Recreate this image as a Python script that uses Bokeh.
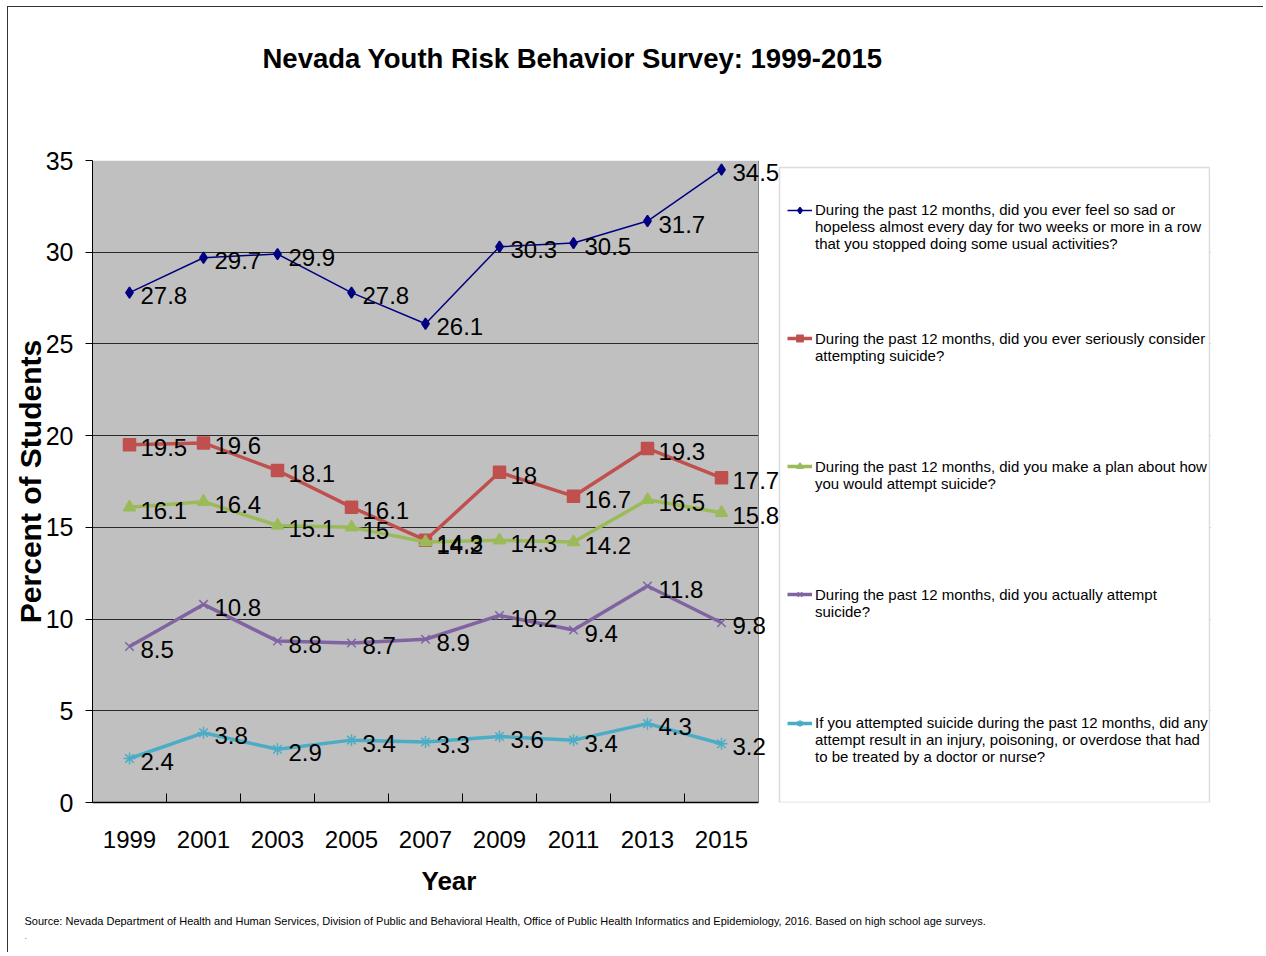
from bokeh.plotting import figure
from bokeh.models import (Range1d, FixedTicker, SingleIntervalTicker, ColumnDataSource,
                          LabelSet, Legend, LegendItem, Title, BoxAnnotation, Span)
from bokeh.core.properties import value
from bokeh.embed import file_html
from bokeh.resources import INLINE

years = ["1999", "2001", "2003", "2005", "2007", "2009", "2011", "2013", "2015"]
sad = [27.8, 29.7, 29.9, 27.8, 26.1, 30.3, 30.5, 31.7, 34.5]
consider = [19.5, 19.6, 18.1, 16.1, 14.3, 18.0, 16.7, 19.3, 17.7]
plan = [16.1, 16.4, 15.1, 15.0, 14.2, 14.3, 14.2, 16.5, 15.8]
attempt = [8.5, 10.8, 8.8, 8.7, 8.9, 10.2, 9.4, 11.8, 9.8]
injury = [2.4, 3.8, 2.9, 3.4, 3.3, 3.6, 3.4, 4.3, 3.2]

series_labels = [
    ["During the past 12 months, did you ever feel so sad or",
     "hopeless almost every day for two weeks or more in a row",
     "that you stopped doing some usual activities?"],
    ["During the past 12 months, did you ever seriously consider",
     "attempting suicide?"],
    ["During the past 12 months, did you make a plan about how",
     "you would attempt suicide?"],
    ["During the past 12 months, did you actually attempt",
     "suicide?"],
    ["If you attempted suicide during the past 12 months, did any",
     "attempt result in an injury, poisoning, or overdose that had",
     "to be treated by a doctor or nurse?"],
]
title_text = "Nevada Youth Risk Behavior Survey: 1999-2015"
y_title = "Percent of Students"
x_title = "Year"
source_text = ("Source: Nevada Department of Health and Human Services, Division of Public and Behavioral Health, "
               "Office of Public Health Informatics and Epidemiology, 2016. Based on high school age surveys.")

FONT = "Liberation Sans"
n = len(years)

p = figure(width=1256, height=946, x_range=Range1d(0, 15.108), y_range=Range1d(0, 35),
           output_backend="svg", toolbar_location=None,
           min_border_left=84, min_border_right=54, min_border_top=153, min_border_bottom=151)
p.background_fill_color = "white"
p.border_fill_color = "white"
p.outline_line_color = None

xs = [i + 0.5 for i in range(n)]

# grey plot region (the frame is wider so that the end labels and legend are not cut)
p.add_layout(BoxAnnotation(left=0, right=n, fill_color="#C0C0C0", fill_alpha=1.0,
                           line_color=None, level="image"))

# x axis
p.xaxis.ticker = FixedTicker(ticks=xs, minor_ticks=list(range(1, n)))
p.xaxis.major_label_overrides = {x: y for x, y in zip(xs, years)}
p.xaxis.bounds = (0, n)
p.xaxis.major_tick_line_color = None
p.xaxis.major_tick_in = 0
p.xaxis.major_tick_out = 0
p.xaxis.minor_tick_in = 9
p.xaxis.minor_tick_out = 0
p.xaxis.minor_tick_line_color = "black"
p.xaxis.axis_line_color = "black"
p.xaxis.axis_line_width = 1.5
p.xaxis.major_label_standoff = 28
p.xaxis.major_label_text_font = FONT
p.xaxis.major_label_text_font_size = "24px"
p.xaxis.major_label_text_color = "black"

# y axis
p.yaxis.ticker = SingleIntervalTicker(interval=5, num_minor_ticks=0)
p.yaxis.major_tick_out = 7
p.yaxis.major_tick_in = 0
p.yaxis.minor_tick_line_color = None
p.yaxis.axis_line_color = "black"
p.yaxis.major_tick_line_color = "black"
p.yaxis.major_label_standoff = 12
p.yaxis.major_label_text_font = FONT
p.yaxis.major_label_text_font_size = "25px"
p.yaxis.major_label_text_color = "black"
p.yaxis.axis_label = y_title
p.yaxis.axis_label_text_font = FONT
p.yaxis.axis_label_text_font_size = "30px"
p.yaxis.axis_label_text_font_style = "bold"
p.yaxis.axis_label_text_color = "black"
p.yaxis.axis_label_standoff = -4

p.xgrid.grid_line_color = None
p.ygrid.grid_line_color = "#2a2a2a"
p.ygrid.grid_line_width = 1

# white area right of the plot region
p.add_layout(BoxAnnotation(left=n, fill_color="white", fill_alpha=1.0, line_color=None, level="glyph"))
p.add_layout(Span(location=n, dimension="height", line_color="#8a8a8a", line_width=1, level="glyph"))

# legend frame
p.add_layout(BoxAnnotation(left=687, right=1117, bottom=0, top=635,
                           left_units="screen", right_units="screen",
                           bottom_units="screen", top_units="screen",
                           fill_color="white", fill_alpha=1.0,
                           line_color="#8a8a8a", line_width=1.5))

specs = [
    (sad, "#000080", "diamond", 1.5, 11),
    (consider, "#C0504D", "square", 3.5, 12),
    (plan, "#9BBB59", "triangle", 3.5, 12),
    (attempt, "#8064A2", "x", 3.5, 12),
    (injury, "#4BACC6", "asterisk", 3.5, 12),
]

items = []
for (vals, color, marker, lw, ms), lines in zip(specs, series_labels):
    src = ColumnDataSource(dict(x=xs, y=vals, t=[("%g" % v) for v in vals]))
    lr = p.line("x", "y", source=src, line_color=color, line_width=lw)
    sr = p.scatter("x", "y", source=src, marker=marker, size=ms, fill_color=color,
                   line_color=color, line_width=1.5)
    p.add_layout(LabelSet(x="x", y="y", text="t", source=src, x_offset=11, y_offset=-3,
                          text_baseline=value("middle"), text_align=value("left"),
                          text_font=value(FONT), text_font_size=value("24px"),
                          text_color=value("black")))
    # blank lines before the text keep the legend symbol level with the first line
    label = "\n".join([" "] * (len(lines) - 1) + lines)
    items.append(LegendItem(label=label, renderers=[lr, sr]))

legend = Legend(items=items, location=(695, 37), orientation="vertical",
                label_text_font=FONT, label_text_font_size="15px", label_text_color="black",
                glyph_width=25, glyph_height=16, label_standoff=3, padding=8,
                label_height=84, spacing=44,
                border_line_color=None, background_fill_alpha=0.0)
p.add_layout(legend)

# title (a thin spacer title keeps it well above the plot)
p.add_layout(Title(text=" ", standoff=84, text_font=FONT, text_font_size="1px"), "above")
p.add_layout(Title(text=title_text, align="left", offset=170, standoff=0,
                   text_font=FONT, text_font_size="27.5px", text_font_style="bold",
                   text_color="black"), "above")
p.add_layout(Title(text=x_title, align="left", offset=329, standoff=27,
                   text_font=FONT, text_font_size="26px", text_font_style="bold",
                   text_color="black"), "below")
p.add_layout(Title(text=source_text, align="left", offset=-68, standoff=6,
                   text_font=FONT, text_font_size="11px", text_font_style="normal",
                   text_color="black"), "below")
p.add_layout(Title(text=".", align="left", offset=-68, standoff=2,
                   text_font=FONT, text_font_size="9px", text_font_style="normal",
                   text_color="#777777"), "below")

p.styles = {"margin-left": "7px", "margin-top": "6px",
            "border-top": "1px solid #333", "border-left": "1px solid #333"}

open("out.html", "w").write(file_html(p, INLINE))
